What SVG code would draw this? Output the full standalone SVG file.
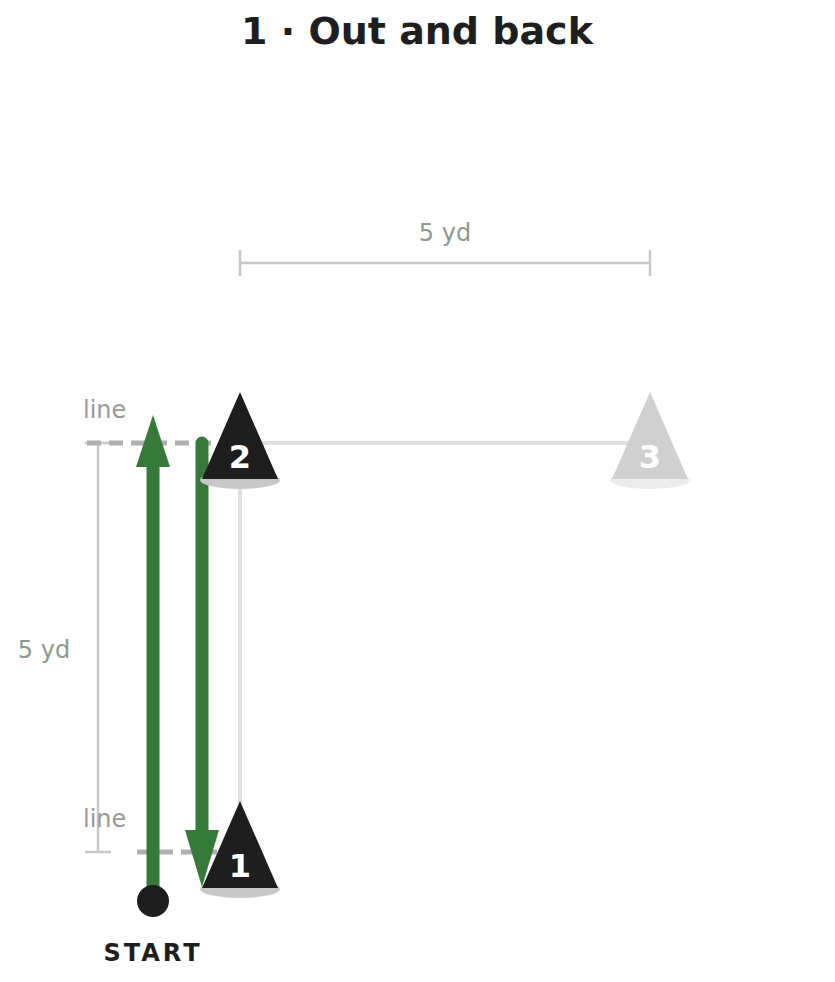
<svg xmlns="http://www.w3.org/2000/svg" width="835" height="982" viewBox="0 0 835 982">
<style>
text{font-family:"DejaVu Sans",sans-serif}
.dim{stroke:#c8c8c8;stroke-width:2.5;fill:none}
.lbl{fill:#8c9a8c;font-size:24px}
.ln{fill:#999;font-size:24px}
.g{stroke:#367a3a;stroke-width:13;fill:none}
.cn{fill:#1e1e1e}
.num{fill:#fff;font-size:32px;font-weight:bold;text-anchor:middle}
</style>
<rect width="835" height="982" fill="#fff"/>
<text x="417" y="44" text-anchor="middle" font-size="38" font-weight="bold" fill="#1e1e1e">1 · Out and back</text>
<g id="dims">
<path class="dim" d="M240 263H650M240 250V276M650 250V276"/>
<text class="lbl" x="445" y="241" text-anchor="middle">5 yd</text>
<path class="dim" d="M98 443V852M85 443H111M85 852H111"/>
<text class="lbl" x="44" y="658" text-anchor="middle">5 yd</text>
<path d="M87 443H230" stroke="#b0b0b0" stroke-width="5" stroke-dasharray="14 8"/>
<path d="M137 852H230" stroke="#b0b0b0" stroke-width="5" stroke-dasharray="14 8"/>
<text class="ln" x="83" y="418">line</text>
<text class="ln" x="83" y="827">line</text>
</g>
<g id="connectors">
<path d="M240 443H650M240 443V852" stroke="#e0e0e0" stroke-width="4" fill="none"/>
<path class="g" d="M153 888V460"/>
<polygon points="153,415 136,467 170,467" fill="#367a3a"/>
<path class="g" d="M202 443V835" stroke-linecap="round"/>
<polygon points="202,887 185,830 219,830" fill="#367a3a"/>
</g>
<g id="cone3">
<ellipse cx="650" cy="480" rx="40" ry="9" fill="#ececec"/>
<polygon points="650,392 612,479 688,479" fill="#d0d0d0"/>
<text class="num" x="650" y="468">3</text>
</g>
<g id="cone2">
<ellipse cx="240" cy="480" rx="40" ry="9" fill="#c8c8c8"/>
<polygon class="cn" points="240,392 202,479 278,479"/>
<text class="num" x="240" y="468">2</text>
</g>
<g id="cone1">
<ellipse cx="240" cy="889" rx="40" ry="9" fill="#c8c8c8"/>
<polygon class="cn" points="240,801 202,888 278,888"/>
<text class="num" x="240" y="877">1</text>
</g>
<g id="start">
<circle cx="153" cy="901" r="16" fill="#1e1e1e"/>
<text x="153" y="961" text-anchor="middle" font-size="24" font-weight="bold" letter-spacing="3" fill="#1e1e1e">START</text>
</g>
</svg>
